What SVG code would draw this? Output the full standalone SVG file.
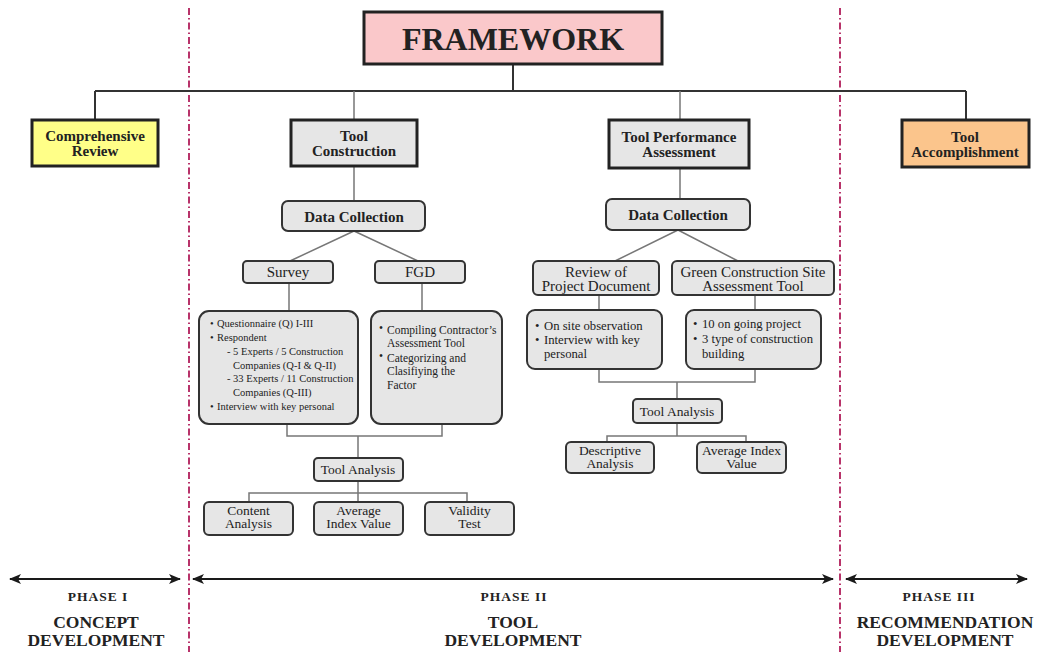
<svg xmlns="http://www.w3.org/2000/svg" width="1038" height="652" viewBox="0 0 1038 652">
<defs>
<marker id="ah" viewBox="0 0 12 10" refX="11" refY="5" markerWidth="12" markerHeight="10" markerUnits="userSpaceOnUse" orient="auto-start-reverse">
<path d="M0 0 L12 5 L0 10 L3 5 Z" fill="#1a1a1a"/>
</marker>
<style>
text{font-family:"Liberation Serif","Times New Roman",serif;fill:#222}
.b{font-weight:bold}
.c{text-anchor:middle}
.top{fill:#fac8ca;stroke:#222;stroke-width:3}
.l1{stroke:#222;stroke-width:3}
.gray{fill:#e6e6e6}
.rb{fill:#e6e6e6;stroke:#333;stroke-width:2}
.dk{stroke:#333;stroke-width:2;fill:none}
.lt{stroke:#777;stroke-width:1.5;fill:none}
.dd{stroke:#b8336a;stroke-width:2;stroke-dasharray:7 3 1.5 3;fill:none}
.ar{stroke:#1a1a1a;stroke-width:2;fill:none;marker-start:url(#ah);marker-end:url(#ah)}
.ph{font-size:13.5px;letter-spacing:1px}
.pt{font-size:17.5px}
</style>
</defs>
<rect width="1038" height="652" fill="#fff"/>

<g id="phase-dividers">
<line class="dd" x1="189" y1="8" x2="189" y2="652"/>
<line class="dd" x1="840" y1="8" x2="840" y2="652"/>
</g>

<g id="connectors">
<path class="dk" d="M513 64 V91 M95 91 H966 M95 91 V120 M966 91 V120"/>
<path class="lt" d="M354 91 V120 M680 91 V120"/>
<path class="lt" d="M354 166 V201 M680 168 V199"/>
<path class="lt" d="M354 231 L290 261 M354 231 L418 261"/>
<path class="lt" d="M678 230 L615 261 M678 230 L738 261"/>
<path class="lt" d="M289 283 V311 M422 283 V311"/>
<path class="lt" d="M287 424 V436 H442 V424 M358 436 V458"/>
<path class="lt" d="M358 481 V493 M249 502 V493 H467 V502 M358 493 V502"/>
<path class="lt" d="M599 295 V310 M755 295 V310"/>
<path class="lt" d="M599 369 V382 H755 V369 M677 382 V399"/>
<path class="lt" d="M677 423 V436 M607 442 V436 H746 V442"/>
</g>

<g id="framework">
<rect class="top" x="364" y="12" width="298" height="52"/>
<text class="b c" x="513" y="50" font-size="32">FRAMEWORK</text>
</g>

<g id="comprehensive-review">
<rect class="l1" x="32" y="120" width="126" height="46" fill="#ffff88"/>
<text class="b c" x="95" y="141" font-size="15">Comprehensive</text>
<text class="b c" x="95" y="156" font-size="15">Review</text>
</g>

<g id="tool-construction">
<rect class="l1 gray" x="291" y="120" width="126" height="46"/>
<text class="b c" x="354" y="141" font-size="15">Tool</text>
<text class="b c" x="354" y="156" font-size="15">Construction</text>
</g>

<g id="tool-performance">
<rect class="l1 gray" x="609" y="120" width="140" height="48"/>
<text class="b c" x="679" y="142" font-size="15">Tool Performance</text>
<text class="b c" x="679" y="157" font-size="15">Assessment</text>
</g>

<g id="tool-accomplishment">
<rect class="l1" x="902" y="120" width="127" height="47" fill="#fbc58c"/>
<text class="b c" x="965" y="142" font-size="15">Tool</text>
<text class="b c" x="965" y="157" font-size="15">Accomplishment</text>
</g>

<g id="data-collection-1">
<rect class="rb" x="282" y="201" width="143" height="30" rx="6"/>
<text class="b c" x="354" y="222" font-size="15">Data Collection</text>
</g>

<g id="data-collection-2">
<rect class="rb" x="606" y="199" width="144" height="31" rx="6"/>
<text class="b c" x="678" y="220" font-size="15">Data Collection</text>
</g>

<g id="survey">
<rect class="rb" x="243" y="261" width="90" height="22" rx="4"/>
<text class="c" x="288" y="277" font-size="15">Survey</text>
</g>

<g id="fgd">
<rect class="rb" x="375" y="261" width="90" height="22" rx="4"/>
<text class="c" x="420" y="277" font-size="15">FGD</text>
</g>

<g id="survey-details">
<rect class="rb" x="199" y="311" width="159" height="113" rx="10"/>
<g font-size="10.5">
<text x="210" y="327">•</text><text x="217" y="327">Questionnaire (Q) I-III</text>
<text x="210" y="341">•</text><text x="217" y="341">Respondent</text>
<text x="227" y="355">- 5 Experts / 5 Construction</text>
<text x="233" y="369">Companies (Q-I &amp; Q-II)</text>
<text x="227" y="382">- 33 Experts / 11 Construction</text>
<text x="233" y="396">Companies (Q-III)</text>
<text x="210" y="410">•</text><text x="217" y="410">Interview with key personal</text>
</g>
</g>

<g id="fgd-details">
<rect class="rb" x="371" y="311" width="131" height="113" rx="10"/>
<g font-size="11.5">
<text x="379" y="332">•</text><text x="387" y="334">Compiling Contractor’s</text>
<text x="387" y="347">Assessment Tool</text>
<text x="379" y="360">•</text><text x="387" y="362">Categorizing and</text>
<text x="387" y="375">Clasifiying the</text>
<text x="387" y="389">Factor</text>
</g>
</g>

<g id="tool-analysis-1">
<rect class="rb" x="314" y="458" width="89" height="23" rx="4"/>
<text class="c" x="358" y="474" font-size="13.5">Tool Analysis</text>
</g>

<g id="content-analysis">
<rect class="rb" x="204" y="502" width="89" height="33" rx="5"/>
<text class="c" x="248.5" y="515" font-size="13.5">Content</text>
<text class="c" x="248.5" y="528" font-size="13.5">Analysis</text>
</g>

<g id="average-index-1">
<rect class="rb" x="314" y="502" width="89" height="33" rx="5"/>
<text class="c" x="358.5" y="515" font-size="13.5">Average</text>
<text class="c" x="358.5" y="528" font-size="13.5">Index Value</text>
</g>

<g id="validity-test">
<rect class="rb" x="425" y="502" width="89" height="33" rx="5"/>
<text class="c" x="469.5" y="515" font-size="13.5">Validity</text>
<text class="c" x="469.5" y="528" font-size="13.5">Test</text>
</g>

<g id="review-project-document">
<rect class="rb" x="533" y="261" width="126" height="34" rx="5"/>
<text class="c" x="596" y="277" font-size="15">Review of</text>
<text class="c" x="596" y="291" font-size="15">Project Document</text>
</g>

<g id="green-construction">
<rect class="rb" x="672" y="261" width="162" height="34" rx="5"/>
<text class="c" x="753" y="277" font-size="15">Green Construction Site</text>
<text class="c" x="753" y="291" font-size="15">Assessment Tool</text>
</g>

<g id="review-details">
<rect class="rb" x="527" y="310" width="135" height="59" rx="8"/>
<g font-size="12.7">
<text x="535" y="330">•</text><text x="544" y="330">On site observation</text>
<text x="535" y="344">•</text><text x="544" y="344">Interview with key</text>
<text x="544" y="358">personal</text>
</g>
</g>

<g id="green-details">
<rect class="rb" x="686" y="310" width="135" height="59" rx="8"/>
<g font-size="12.7">
<text x="693" y="328">•</text><text x="702" y="328">10 on going project</text>
<text x="693" y="343">•</text><text x="702" y="343">3 type of construction</text>
<text x="702" y="358">building</text>
</g>
</g>

<g id="tool-analysis-2">
<rect class="rb" x="633" y="399" width="89" height="24" rx="4"/>
<text class="c" x="677" y="416" font-size="13.5">Tool Analysis</text>
</g>

<g id="descriptive-analysis">
<rect class="rb" x="566" y="442" width="88" height="31" rx="5"/>
<text class="c" x="610" y="455" font-size="13.5">Descriptive</text>
<text class="c" x="610" y="468" font-size="13.5">Analysis</text>
</g>

<g id="average-index-2">
<rect class="rb" x="697" y="442" width="89" height="31" rx="5"/>
<text class="c" x="741.5" y="455" font-size="13.5">Average Index</text>
<text class="c" x="741.5" y="468" font-size="13.5">Value</text>
</g>

<g id="phase-arrows">
<line class="ar" x1="10" y1="579" x2="180" y2="579"/>
<line class="ar" x1="193" y1="579" x2="833" y2="579"/>
<line class="ar" x1="846" y1="579" x2="1027" y2="579"/>
</g>

<g id="phase-1">
<text class="b c ph" x="98" y="601">PHASE I</text>
<text class="b c pt" x="96" y="628">CONCEPT</text>
<text class="b c pt" x="96" y="646">DEVELOPMENT</text>
</g>
<g id="phase-2">
<text class="b c ph" x="514" y="601">PHASE II</text>
<text class="b c pt" x="513" y="628">TOOL</text>
<text class="b c pt" x="513" y="646">DEVELOPMENT</text>
</g>
<g id="phase-3">
<text class="b c ph" x="939" y="601">PHASE III</text>
<text class="b c pt" x="945" y="628">RECOMMENDATION</text>
<text class="b c pt" x="945" y="646">DEVELOPMENT</text>
</g>
</svg>
